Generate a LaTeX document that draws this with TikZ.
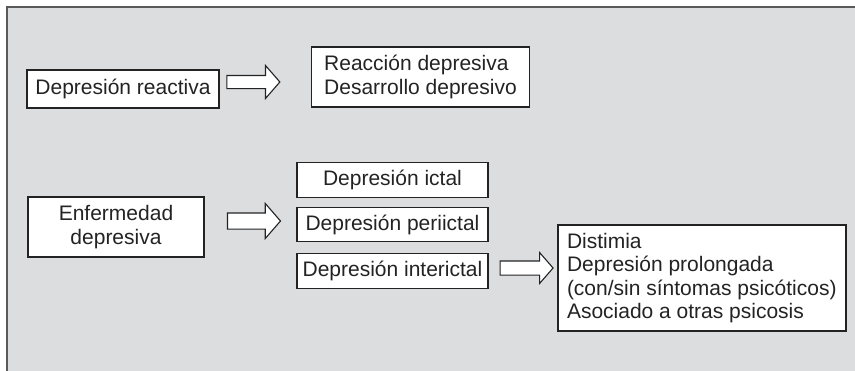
\documentclass[tikz,border=0pt]{standalone}
\usepackage{fontspec}
\setmainfont{Liberation Sans}
\usetikzlibrary{shapes.arrows}
\definecolor{panelgray}{HTML}{DCDDDF}
\definecolor{inkgray}{HTML}{232323}
\begin{document}
\begin{tikzpicture}[x=1pt, y=-1pt,
  box/.style={draw=inkgray, fill=white, line width=1.2pt, text=inkgray,
    font=\fontsize{21}{23.5}\selectfont, inner sep=0pt},
  blockarrow/.style={single arrow, draw=inkgray, fill=white, line width=1.1pt,
    minimum height=53pt, single arrow tip angle=98}]
\useasboundingbox (0,0) rectangle (855,370);
\draw[fill=panelgray, draw=gray!70!black, line width=1.8pt] (7,7) rectangle (880,390);
% upper row
\node[box, minimum width=192, minimum height=38] (reactiva) at (123,89) {Depresión reactiva};
\node[box, minimum width=218, minimum height=60, align=left] (reaccion) at (420.5,77)
  {Reacción depresiva\\Desarrollo depresivo};
\node[blockarrow, inner sep=6pt, single arrow head extend=10pt] (flecha1) at (250.5,82) {};
% lower rows
\node[box, minimum width=176, minimum height=60, align=center] (enfermedad) at (116,227)
  {Enfermedad\\depresiva};
\foreach \nombre/\texto/\y in {ictal/ictal/180, periictal/periictal/224.5, interictal/interictal/271}
  \node[box, minimum width=191, minimum height=34.5] (\nombre) at (392.5,\y) {Depresión \texto};
\node[blockarrow, inner sep=7.5pt, single arrow head extend=9.5pt] (flecha2) at (250.5,221) {};
\node[blockarrow, inner sep=6.5pt, single arrow head extend=8.5pt] (flecha3) at (523.5,268) {};
\node[box, minimum width=288, minimum height=106, align=left] (formas) at (702,278)
  {\makebox[270pt][l]{Distimia}\\Depresión prolongada\\(con/sin síntomas psicóticos)\\Asociado a otras psicosis};
\end{tikzpicture}
\end{document}
